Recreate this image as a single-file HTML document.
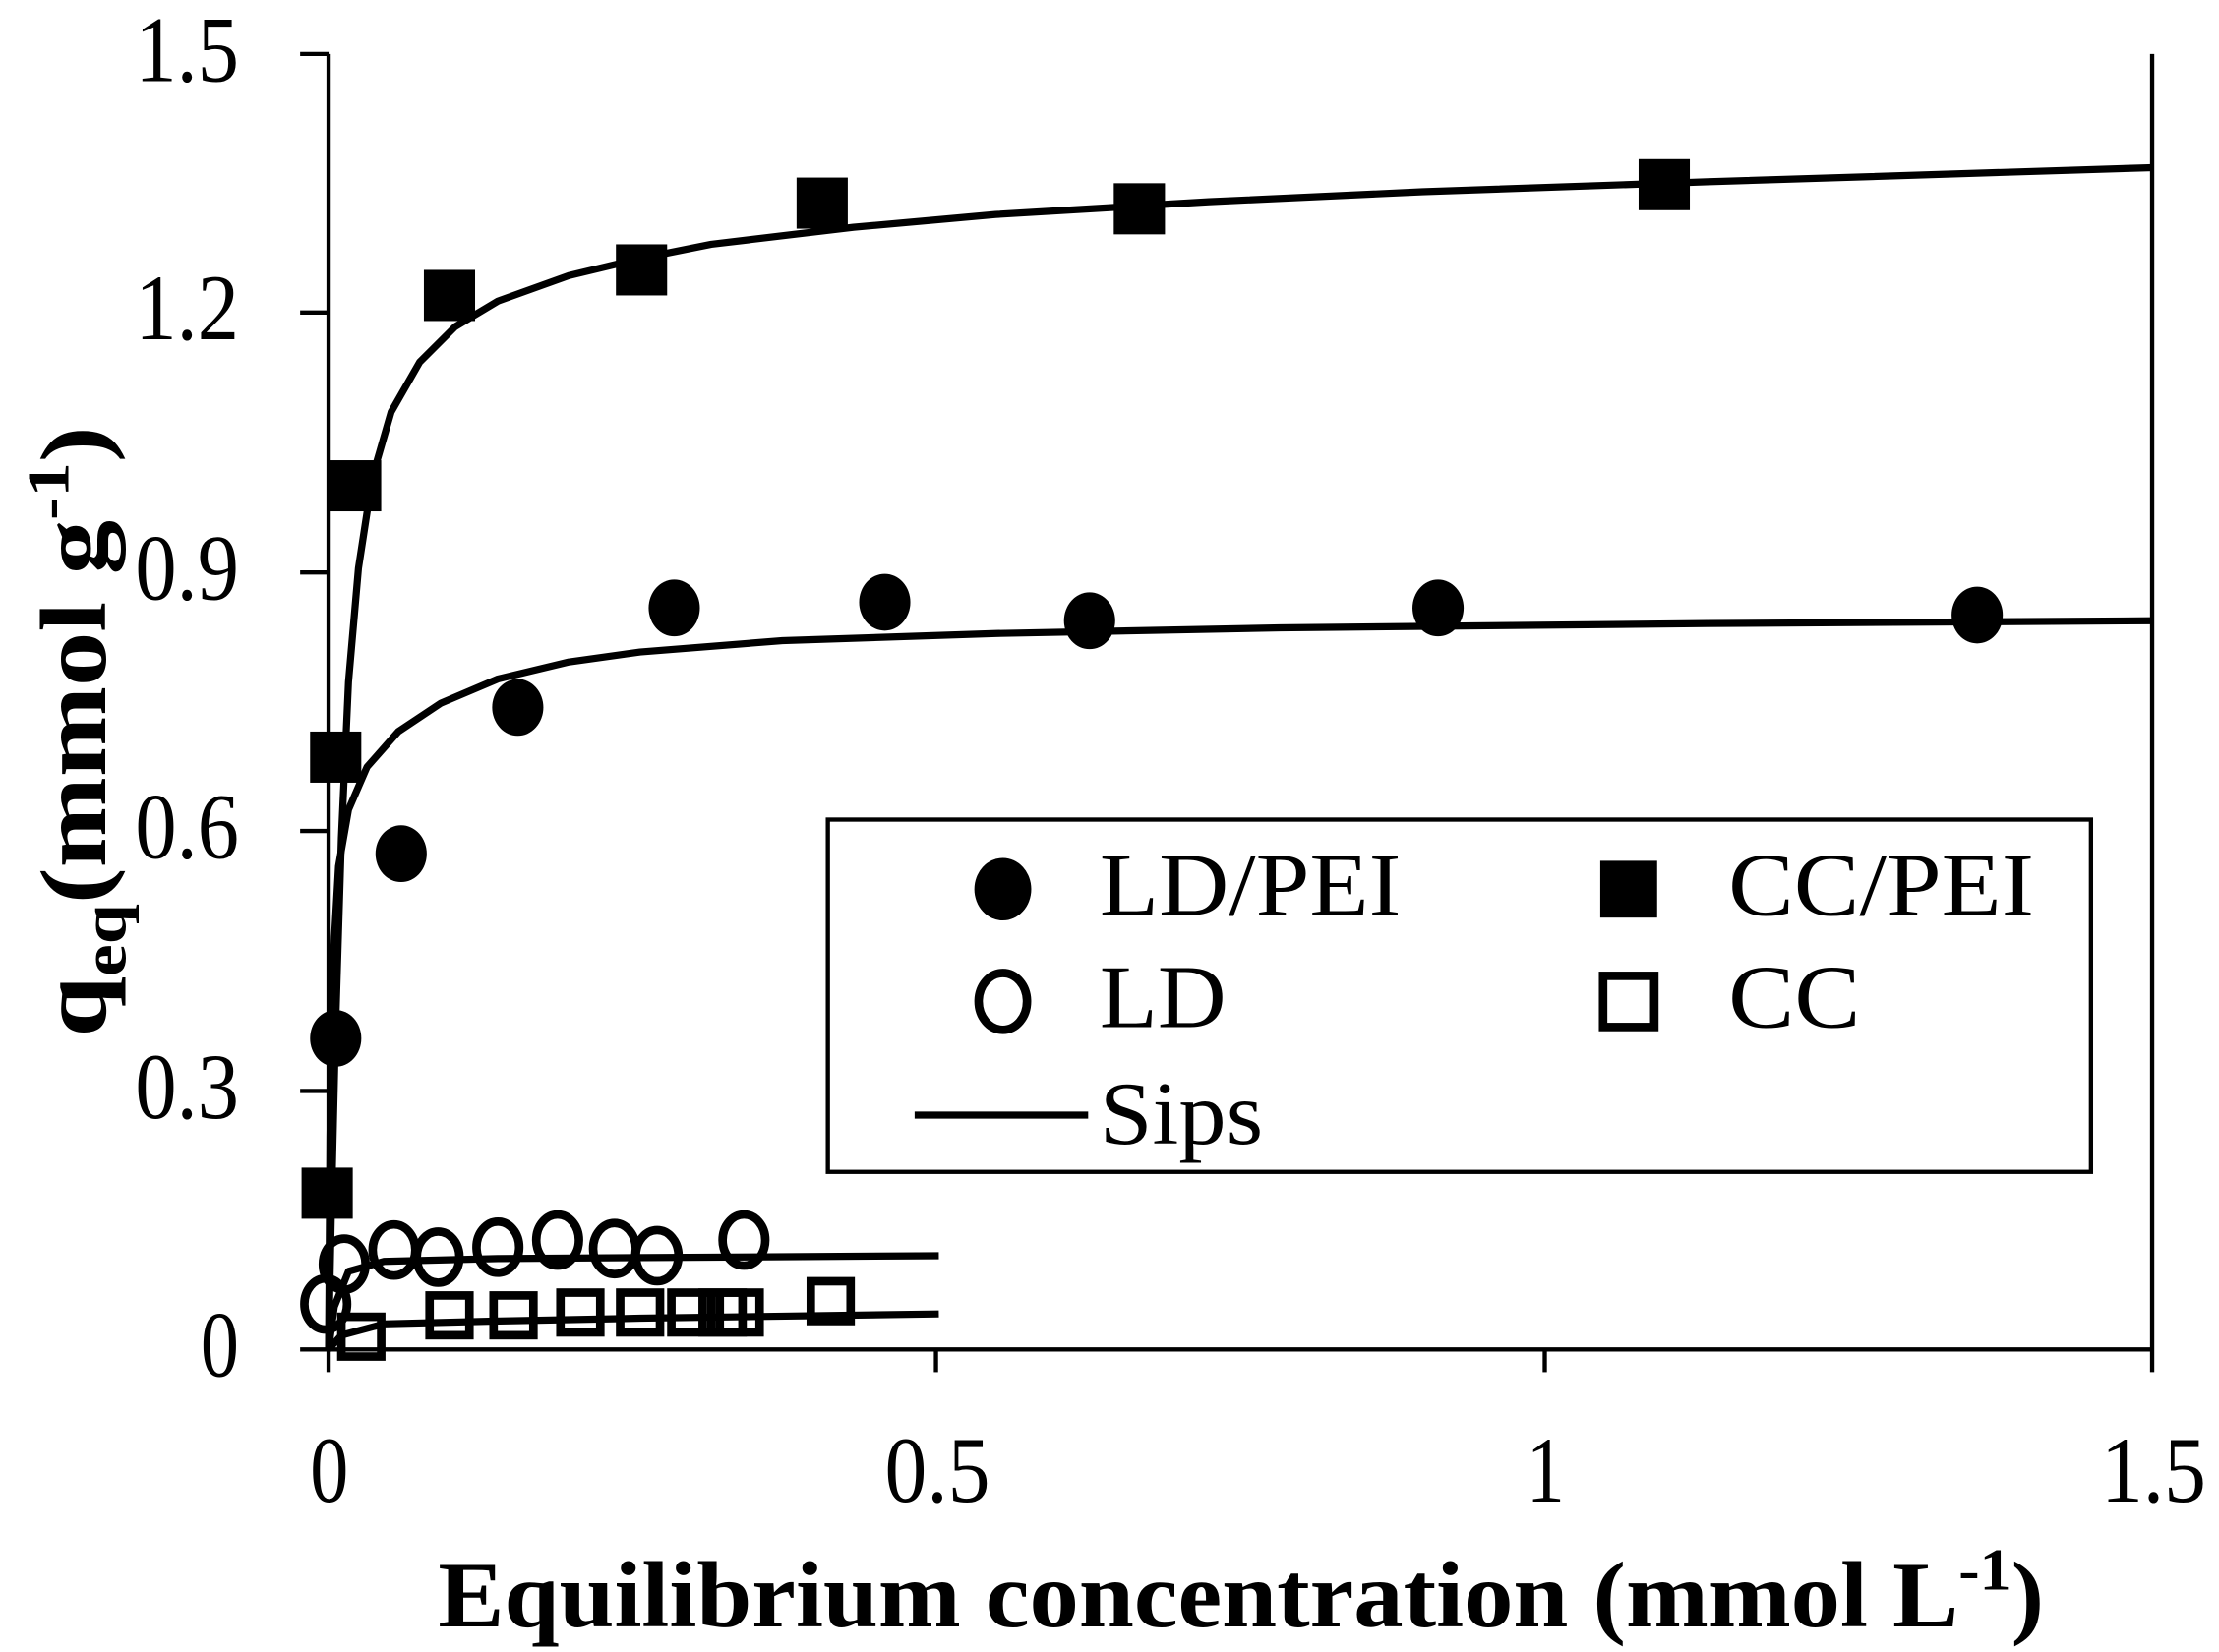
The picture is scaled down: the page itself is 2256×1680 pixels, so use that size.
<!DOCTYPE html>
<html><head><style>html,body{margin:0;padding:0;background:#fff}svg{display:block}</style></head>
<body>
<svg width="2256" height="1680" viewBox="0 0 1560 1163" preserveAspectRatio="none" xmlns="http://www.w3.org/2000/svg" font-family="'Liberation Serif',serif">
<g stroke="#000" stroke-width="3" fill="none">
<line x1="231" y1="38" x2="231" y2="966"/>
<line x1="211" y1="950" x2="1513" y2="950"/>
<line x1="1513" y1="38" x2="1513" y2="966"/>
<line x1="211" y1="38" x2="231" y2="38"/>
<line x1="211" y1="220" x2="231" y2="220"/>
<line x1="211" y1="403" x2="231" y2="403"/>
<line x1="211" y1="585" x2="231" y2="585"/>
<line x1="211" y1="768" x2="231" y2="768"/>
<line x1="658" y1="950" x2="658" y2="966"/>
<line x1="1086" y1="950" x2="1086" y2="966"/>
</g>
<g font-size="66">
<text x="95" y="57" textLength="73" lengthAdjust="spacingAndGlyphs">1.5</text>
<text x="95" y="239" textLength="73" lengthAdjust="spacingAndGlyphs">1.2</text>
<text x="95" y="422" textLength="73" lengthAdjust="spacingAndGlyphs">0.9</text>
<text x="95" y="604" textLength="73" lengthAdjust="spacingAndGlyphs">0.6</text>
<text x="95" y="787" textLength="73" lengthAdjust="spacingAndGlyphs">0.3</text>
<text x="141" y="969" textLength="27" lengthAdjust="spacingAndGlyphs">0</text>
<text x="218" y="1057" textLength="27" lengthAdjust="spacingAndGlyphs">0</text>
<text x="622" y="1057" textLength="74" lengthAdjust="spacingAndGlyphs">0.5</text>
<text x="1073" y="1057" textLength="27" lengthAdjust="spacingAndGlyphs">1</text>
<text x="1477" y="1057" textLength="74" lengthAdjust="spacingAndGlyphs">1.5</text>
</g>
<text x="308" y="1145" font-size="66" font-weight="bold" textLength="1129" lengthAdjust="spacingAndGlyphs">Equilibrium  concentration  (mmol  L<tspan dy="-26" font-size="42">-1</tspan><tspan dy="26">)</tspan></text>
<text transform="translate(74,730) rotate(-90)" font-size="66" font-weight="bold" textLength="430" lengthAdjust="spacingAndGlyphs">q<tspan dy="14" font-size="44">eq</tspan><tspan dy="-14">(mmol  g</tspan><tspan dy="-26" font-size="42">-1</tspan><tspan dy="26">)</tspan></text>
<g stroke="#000" stroke-width="5" fill="none" stroke-linejoin="round">
<path d="M231,950 L233,850 L236,720 L240,590 L245,480 L252,400 L262,335 L275,290 L295,255 L320,230 L350,212 L400,194 L450,182 L500,172 L600,160 L700,151 L850,142 L1000,135 L1200,128 L1513,118"/>
<path d="M231,950 L232,800 L234,680 L238,610 L245,570 L258,540 L280,515 L310,495 L350,478 L400,466 L450,459 L550,451 L700,446 L900,442 L1200,439 L1513,437"/>
<path d="M231,950 L235,920 L245,895 L270,888 L350,886 L660,884"/>
<path d="M231,950 L240,940 L270,932 L350,930 L450,928 L660,925"/>
</g>
<g fill="#000">
<rect x="212" y="822" width="36" height="36"/><rect x="218" y="515" width="36" height="36"/><rect x="232" y="324" width="36" height="36"/>
<rect x="298" y="190" width="36" height="36"/><rect x="433" y="172" width="36" height="36"/><rect x="560" y="125" width="36" height="36"/>
<rect x="783" y="129" width="36" height="36"/><rect x="1152" y="112" width="36" height="36"/>
<ellipse cx="236" cy="731" rx="18" ry="20"/><ellipse cx="282" cy="601" rx="18" ry="20"/><ellipse cx="364" cy="498" rx="18" ry="20"/>
<ellipse cx="474" cy="428" rx="18" ry="20"/><ellipse cx="622" cy="424" rx="18" ry="20"/><ellipse cx="766" cy="437" rx="18" ry="20"/>
<ellipse cx="1011" cy="428" rx="18" ry="20"/><ellipse cx="1390" cy="433" rx="18" ry="20"/>
</g>
<g stroke="#000" stroke-width="6" fill="none">
<ellipse cx="229" cy="918" rx="15" ry="18"/><ellipse cx="242" cy="890" rx="15" ry="18"/><ellipse cx="277" cy="880" rx="15" ry="18"/>
<ellipse cx="308" cy="885" rx="15" ry="18"/><ellipse cx="350" cy="878" rx="15" ry="18"/><ellipse cx="392" cy="873" rx="15" ry="18"/>
<ellipse cx="432" cy="879" rx="15" ry="18"/><ellipse cx="462" cy="884" rx="15" ry="18"/><ellipse cx="523" cy="873" rx="15" ry="18"/>
<rect x="240" y="927" width="28" height="28"/><rect x="302" y="912" width="28" height="28"/><rect x="347" y="912" width="28" height="28"/>
<rect x="394" y="910" width="28" height="28"/><rect x="436" y="910" width="28" height="28"/><rect x="472" y="910" width="28" height="28"/>
<rect x="494" y="910" width="28" height="28"/><rect x="506" y="910" width="28" height="28"/><rect x="570" y="902" width="28" height="28"/>
</g>
<rect x="582" y="577" width="888" height="248" fill="#fff" stroke="#000" stroke-width="3"/>
<ellipse cx="705" cy="626" rx="20" ry="22" fill="#000"/>
<rect x="1125" y="606" width="40" height="40" fill="#000"/>
<ellipse cx="705" cy="705" rx="17" ry="20" fill="none" stroke="#000" stroke-width="6"/>
<rect x="1127" y="687" width="36" height="36" fill="none" stroke="#000" stroke-width="6"/>
<line x1="643" y1="785" x2="765" y2="785" stroke="#000" stroke-width="5"/>
<g font-size="63">
<text x="773" y="644" textLength="212" lengthAdjust="spacingAndGlyphs">LD/PEI</text>
<text x="1215" y="644" textLength="215" lengthAdjust="spacingAndGlyphs">CC/PEI</text>
<text x="773" y="723" textLength="89" lengthAdjust="spacingAndGlyphs">LD</text>
<text x="1215" y="723" textLength="93" lengthAdjust="spacingAndGlyphs">CC</text>
<text x="773" y="805" textLength="115" lengthAdjust="spacingAndGlyphs">Sips</text>
</g>
</svg>
</body></html>
